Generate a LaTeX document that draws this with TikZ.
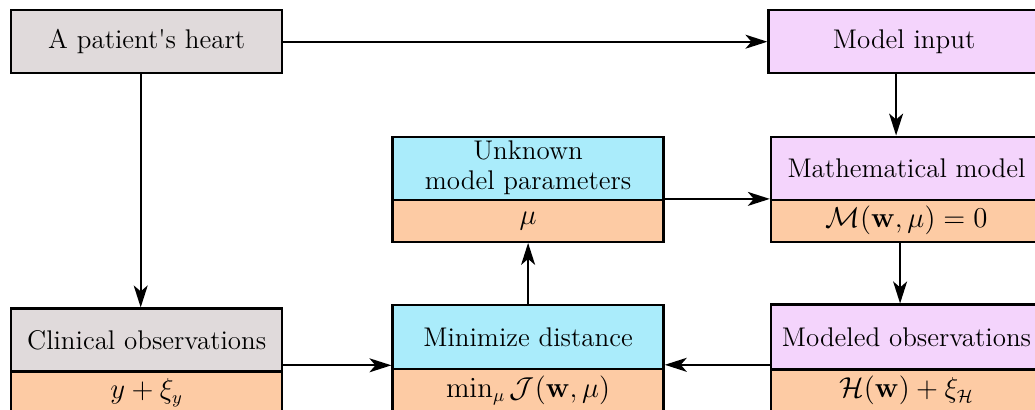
\documentclass[tikz,border=0pt]{standalone}
\usepackage{amsmath, amssymb}
\usetikzlibrary{arrows.meta, positioning}
\definecolor{HeartGray}{RGB}{224, 218, 219}
\definecolor{ModelViolet}{RGB}{244, 212, 252}
\definecolor{OptCyan}{RGB}{170, 236, 251}
\definecolor{ValPeach}{RGB}{253, 203, 164}

\begin{document}
\begin{tikzpicture}[
    node distance=54pt and 52.5pt,
    every node/.style={font=\fontsize{13.5}{15}\selectfont, align=center},
    topbox/.style={rectangle, draw=black, line width=1.2pt, minimum width=135.5pt, minimum height=31.5pt, inner sep=1pt},
    valbox/.style={rectangle, draw=black, fill=ValPeach, line width=1.2pt, minimum width=135.5pt, minimum height=21pt, inner sep=1pt},
    arrow/.style={-{Stealth[length=11pt, width=7pt, inset=3pt]}, draw=black, line width=0.9pt}
  ]
    \useasboundingbox (0,0) rectangle (517.5pt,-204.5pt);
    \clip (0,0) rectangle (517.5pt,-204.5pt);

    % Row 1: heart and model input
    \node[topbox, fill=HeartGray, anchor=north west] (heart) at (5pt,-4.5pt) {A patient\textquotesingle s heart};
    \node[topbox, fill=ModelViolet, right=242pt of heart] (input) {Model input};

    % Row 3: observations and distance
    \node[topbox, fill=HeartGray, below=116.5pt of heart] (clinical) {Clinical observations};
    \node[valbox, below=-1.2pt of clinical] (clinical-val) {$y + \xi_y$};
    \node[topbox, fill=OptCyan, right=54pt of clinical, yshift=1.5pt, minimum height=32pt] (minimize) {Minimize distance};
    \node[valbox, below=-1.2pt of minimize] (minimize-val) {$\min_\mu \mathcal{J}(\mathbf{w},\mu)$};
    \node[topbox, fill=ModelViolet, right=52.5pt of minimize, minimum height=32.5pt] (modeled) {Modeled observations};
    \node[valbox, below=-1.2pt of modeled] (modeled-val) {$\mathcal{H}(\mathbf{w}) + \xi_{\mathcal{H}}$};

    % Row 2: parameters and model
    \node[valbox, above=30.5pt of minimize] (params-val) {$\mu$};
    \node[topbox, fill=OptCyan, above=-1.2pt of params-val] (params) {Unknown\\model parameters};
    \node[topbox, fill=ModelViolet, right=52.5pt of params] (math) {Mathematical model};
    \node[valbox, below=-1.2pt of math] (math-val) {$\mathcal{M}(\mathbf{w},\mu) = 0$};

    % Connections
    \coordinate (params-out) at ([yshift=1pt]params.south east);
    \coordinate (clinical-in) at ([yshift=2.5pt]minimize.south west);
    \coordinate (modeled-out) at ([yshift=3pt]modeled.south west);
    \draw[arrow] (heart) -- (input);
    \draw[arrow] ([xshift=-3pt]heart.south) -- ([xshift=-3pt]heart.south |- clinical.north);
    \draw[arrow] ([xshift=-4pt]input.south) -- ([xshift=-4pt]input.south |- math.north);
    \draw[arrow] ([xshift=-3.2pt]math-val.south) -- ([xshift=-3.2pt]math-val.south |- modeled.north);
    \draw[arrow] (params-out) -- (math.west |- params-out);
    \draw[arrow] (minimize) -- (params-val);
    \draw[arrow] (clinical.east |- clinical-in) -- (clinical-in);
    \draw[arrow] (modeled-out) -- (minimize.east |- modeled-out);
\end{tikzpicture}
\end{document}
